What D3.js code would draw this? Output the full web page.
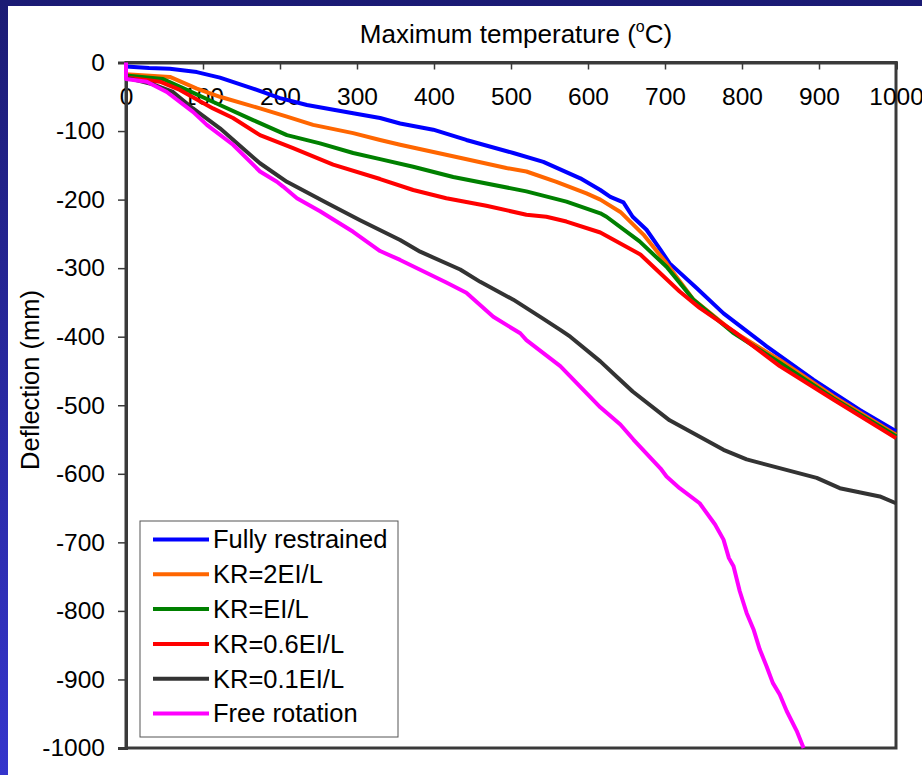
<!DOCTYPE html>
<html>
<head>
<meta charset="utf-8">
<script src="https://cdn.jsdelivr.net/npm/d3@7"></script>
<style>
  body { margin: 0; }
  svg { display: block; font-family: Arial, "Liberation Sans", sans-serif; }
</style>
</head>
<body>
<script>
// data: [temperature (C), deflection (mm)]
var fullyRestrained = [[0,-6],[30,-8],[57,-9],[92,-14],[122,-22],[165,-38],[200,-52],[235,-62],[295,-74],[330,-81],[356,-89],[399,-98],[442,-113],[503,-132],[542,-145],[590,-169],[616,-186],[629,-196],[646,-204],[658,-225],[676,-244],[694,-273],[706,-293],[741,-329],[776,-366],[832,-414],[893,-463],[953,-507],[1000,-538]];
var kr2 = [[0,-17],[57,-21],[92,-38],[122,-50],[174,-67],[209,-79],[243,-91],[295,-103],[330,-113],[356,-120],[438,-140],[494,-154],[520,-159],[559,-174],[598,-191],[616,-200],[642,-218],[672,-251],[702,-293],[737,-346],[788,-392],[849,-434],[919,-487],[1000,-543]];
var kr1 = [[0,-19],[48,-24],[79,-40],[122,-62],[165,-84],[209,-106],[252,-118],[295,-132],[330,-141],[373,-152],[425,-167],[520,-188],[572,-203],[616,-220],[624,-225],[667,-261],[702,-298],[737,-346],[788,-394],[849,-438],[919,-490],[1000,-545]];
var kr06 = [[0,-22],[44,-28],[70,-40],[113,-67],[139,-81],[174,-106],[217,-125],[269,-149],[330,-170],[373,-186],[416,-198],[468,-209],[520,-222],[546,-225],[572,-232],[616,-248],[668,-280],[719,-334],[745,-358],[789,-392],[849,-443],[919,-492],[1000,-548]];
var kr01 = [[0,-22],[35,-32],[61,-43],[87,-67],[122,-96],[174,-147],[209,-174],[261,-205],[304,-230],[356,-259],[382,-276],[434,-302],[460,-320],[503,-346],[538,-371],[564,-390],[577,-400],[616,-436],[637,-458],[658,-480],[706,-522],[776,-565],[806,-579],[897,-606],[927,-621],[979,-633],[1000,-643]];
var freeRotation = [[0,0],[0,-24],[27,-28],[53,-43],[87,-72],[105,-91],[139,-120],[174,-159],[196,-174],[204,-181],[222,-198],[252,-217],[295,-247],[330,-275],[356,-288],[416,-321],[442,-336],[477,-371],[512,-395],[520,-405],[564,-443],[616,-503],[642,-528],[659,-550],[694,-592],[702,-604],[719,-621],[745,-643],[765,-674],[776,-696],[783,-723],[789,-735],[797,-771],[806,-803],[815,-827],[823,-856],[832,-881],[840,-905],[849,-922],[858,-946],[871,-975],[880,-1000]];

var seriesNames = ["Fully restrained", "KR=2EI/L", "KR=EI/L", "KR=0.6EI/L", "KR=0.1EI/L", "Free rotation"];
var seriesData = [fullyRestrained, kr2, kr1, kr06, kr01, freeRotation];
var seriesColors = ["#0000ff", "#ff6600", "#008000", "#ff0000", "#333333", "#ff00ff"];

var xTicks = [0, 100, 200, 300, 400, 500, 600, 700, 800, 900, 1000];
var yTicks = [0, -100, -200, -300, -400, -500, -600, -700, -800, -900, -1000];

var W = 922, H = 775;
var plot = {left: 126, top: 62.5, right: 896, bottom: 748};

var svg = d3.select("body").append("svg")
    .attr("width", W)
    .attr("height", H);

// slide background
var defs = svg.append("defs");
var grad = defs.append("linearGradient").attr("id", "bg").attr("x1", 0).attr("y1", 0).attr("x2", 0).attr("y2", 1);
grad.append("stop").attr("offset", "0%").attr("stop-color", "#1b1b74");
grad.append("stop").attr("offset", "100%").attr("stop-color", "#3535cc");
svg.append("rect").attr("width", W).attr("height", H).attr("fill", "url(#bg)");
svg.append("rect").attr("x", 8).attr("y", 6).attr("width", W - 8).attr("height", H - 6).attr("fill", "#fff");

var x = d3.scaleLinear().domain([0, 1000]).range([plot.left, plot.right]);
var y = d3.scaleLinear().domain([0, -1000]).range([plot.top, plot.bottom]);

// plot frame
svg.append("rect")
    .attr("x", plot.left).attr("y", plot.top)
    .attr("width", plot.right - plot.left).attr("height", plot.bottom - plot.top)
    .attr("fill", "none").attr("stroke", "#3a3a3a").attr("stroke-width", 3);

// plain hyphen for negatives, as in the original
var fmt = function (d) { return String(d); };

// x axis along the top (y = 0), ticks pointing into the plot, labels below
var xAxis = d3.axisBottom(x).tickValues(xTicks).tickSize(7).tickPadding(18).tickFormat(fmt);
var gx = svg.append("g").attr("transform", "translate(0," + plot.top + ")").call(xAxis);
gx.select(".domain").attr("stroke", "#3a3a3a").attr("stroke-width", 3);
gx.selectAll(".tick line").attr("stroke", "#3a3a3a").attr("stroke-width", 1.5);
gx.selectAll(".tick text").attr("font-size", 24.5).attr("fill", "#000")
    .attr("font-family", "Arial, 'Liberation Sans', sans-serif");

// y axis
var yAxis = d3.axisLeft(y).tickValues(yTicks).tickSize(8).tickPadding(13).tickFormat(fmt);
var gy = svg.append("g").attr("transform", "translate(" + plot.left + ",0)").call(yAxis);
gy.select(".domain").attr("stroke", "#3a3a3a").attr("stroke-width", 3);
gy.selectAll(".tick line").attr("stroke", "#3a3a3a").attr("stroke-width", 1.5);
gy.selectAll(".tick text").attr("font-size", 24.5).attr("fill", "#000")
    .attr("font-family", "Arial, 'Liberation Sans', sans-serif");

// series lines
var line = d3.line()
    .x(function (d) { return x(d[0]); })
    .y(function (d) { return y(d[1]); });

svg.append("g").selectAll("path")
  .data(seriesData)
  .enter().append("path")
    .attr("d", line)
    .attr("fill", "none")
    .attr("stroke", function (d, i) { return seriesColors[i]; })
    .attr("stroke-width", 4)
    .attr("stroke-linejoin", "round");

// titles
var title = svg.append("text")
    .attr("x", 516).attr("y", 43)
    .attr("text-anchor", "middle")
    .attr("font-size", 26);
title.append("tspan").text("Maximum temperature (");
title.append("tspan").attr("font-size", 16).attr("dy", -11).text("o");
title.append("tspan").attr("dy", 11).text("C)");

svg.append("text")
    .attr("transform", "translate(39,380) rotate(-90)")
    .attr("text-anchor", "middle")
    .attr("font-size", 25.5)
    .text("Deflection (mm)");

// legend
var legend = svg.append("g");
legend.append("rect")
    .attr("x", 140).attr("y", 521).attr("width", 258).attr("height", 216)
    .attr("fill", "#fff").attr("stroke", "#555").attr("stroke-width", 1);

var rows = legend.selectAll("g.row")
  .data(seriesNames)
  .enter().append("g")
    .attr("class", "row")
    .attr("transform", function (d, i) { return "translate(0," + (539.5 + i * 34.8) + ")"; });

rows.append("line")
    .attr("x1", 153).attr("x2", 209)
    .attr("stroke", function (d, i) { return seriesColors[i]; })
    .attr("stroke-width", 4);

rows.append("text")
    .attr("x", 213).attr("y", 0).attr("dy", "0.35em")
    .attr("font-size", 25.5)
    .text(function (d) { return d; });
</script>
</body>
</html>
